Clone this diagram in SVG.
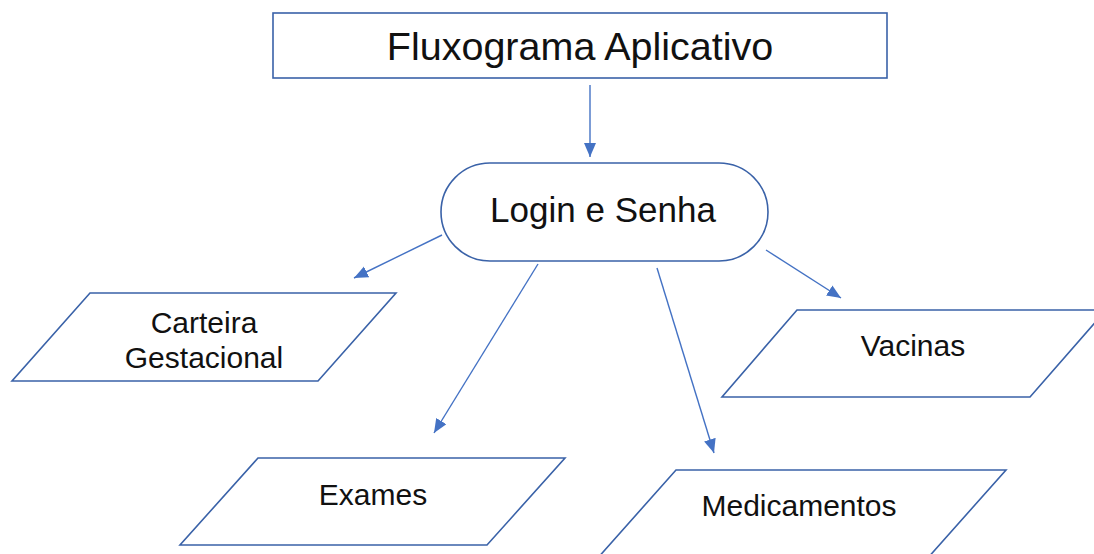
<svg xmlns="http://www.w3.org/2000/svg" width="1094" height="554" viewBox="0 0 1094 554">
<style>
.shape{fill:#fff;stroke:#3A62A8;stroke-width:1.6}
.conn{stroke:#4472C4;stroke-width:1.4;fill:none;marker-end:url(#ah)}
text{font-family:"Liberation Sans",Arial,sans-serif;fill:#111;text-anchor:middle}
.t30{font-size:30px}
</style>
<defs>
<marker id="ah" markerUnits="userSpaceOnUse" markerWidth="15" markerHeight="13" refX="14" refY="6" orient="auto">
<path d="M0,0 L14,6 L0,12 Z" fill="#4472C4"/>
</marker>
</defs>
<rect width="1094" height="554" fill="#fff"/>
<g id="connectors">
<line class="conn" x1="590" y1="85" x2="590" y2="157"/>
<line class="conn" x1="442" y1="235" x2="354" y2="278"/>
<line class="conn" x1="538" y1="264" x2="434" y2="433"/>
<line class="conn" x1="657" y1="268" x2="714" y2="453"/>
<line class="conn" x1="766" y1="250" x2="841" y2="298"/>
</g>
<g id="n-title">
<rect class="shape" x="273" y="13" width="614" height="65"/>
<text x="580" y="60" style="font-size:39.5px">Fluxograma Aplicativo</text>
</g>
<g id="n-login">
<rect class="shape" x="441" y="163" width="327" height="98" rx="49" ry="49"/>
<text x="603" y="222" style="font-size:35px">Login e Senha</text>
</g>
<g id="n-carteira">
<polygon class="shape" points="90,293 396,293 318,381 12,381"/>
<text class="t30" x="204" y="333">Carteira</text>
<text class="t30" x="204" y="368">Gestacional</text>
</g>
<g id="n-exames">
<polygon class="shape" points="258,458 565,458 487,545 180,545"/>
<text class="t30" x="373" y="505">Exames</text>
</g>
<g id="n-medicamentos">
<polygon class="shape" points="676,470 1006,470 926,560 596,560"/>
<text class="t30" x="799" y="516">Medicamentos</text>
</g>
<g id="n-vacinas">
<polygon class="shape" points="797,310 1106,310 1030,397 722,397"/>
<text class="t30" x="913" y="356">Vacinas</text>
</g>
</svg>
